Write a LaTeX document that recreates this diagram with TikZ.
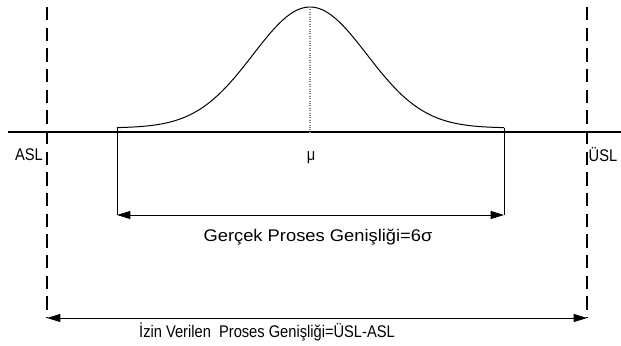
\documentclass[tikz,border=0pt]{standalone}
\usepackage{fontspec}
\setmainfont{Liberation Sans}
\usetikzlibrary{arrows.meta}

\newcommand{\tallx}[1]{\scalebox{1}[1.15]{#1}}

\tikzset{
  limit/.style={line width=1.3pt, dash pattern=on 10pt off 5.5pt},
  dimline/.style={line width=0.75pt, {Triangle[length=10pt,width=6pt]}-{Triangle[length=10pt,width=6pt]}},
  lbl/.style={inner sep=0pt, font=\fontsize{11}{13}\selectfont}
}

\begin{document}
\begin{tikzpicture}[x=0.75pt,y=-0.75pt]
        \useasboundingbox (0,0) rectangle (621,346);

        % limits and base line
        \coordinate (aslT) at (47,7);
        \coordinate (aslB) at (47,318);
        \coordinate (uslT) at (587,7);
        \coordinate (uslB) at (587,318);
        \coordinate (axL) at (8,132);
        \coordinate (axR) at (621,132);
        \draw[line width=0.9pt] (axL) -- (axR);
        \draw[limit] (aslT) -- (aslB);
        \draw[limit] (uslT) -- (uslB);

        % process curve
        \coordinate (L) at (117,128);
        \coordinate (R) at (504,128);
        \coordinate (Lb) at (117,215);
        \coordinate (Rb) at (504,215);
        \coordinate (peak) at (310,7);
        \coordinate (foot) at (310,132);
        \draw[line width=0.75pt] plot[domain=117:504, samples=90] (\x, {128-121*exp(-0.5*((\x-310)/57)^2)});
        \draw[gray, densely dotted, line width=0.8pt] (peak) -- (foot);
        \draw[line width=0.75pt] (L) -- (Lb);
        \draw[line width=0.75pt] (R) -- (Rb);

        \draw[dimline] (Lb) -- (Rb);
        \draw[dimline] (aslB) -- (uslB);

        \node[lbl] (asl) at (29,155) {\tallx{ASL}};
        \node[lbl] (usl) at (603,155) {\tallx{ÜSL}};
        \node[lbl] (mu) at (311,158) {\tallx{μ}};
        \node[lbl] (gercek) at (318,237) {\scalebox{1.25}[1.15]{Gerçek Proses Genişliği=6σ}};
        \node[lbl] (izin) at (267,332) {\tallx{İzin Verilen\ \ Proses Genişliği=ÜSL-ASL}};
    \end{tikzpicture}
\end{document}
